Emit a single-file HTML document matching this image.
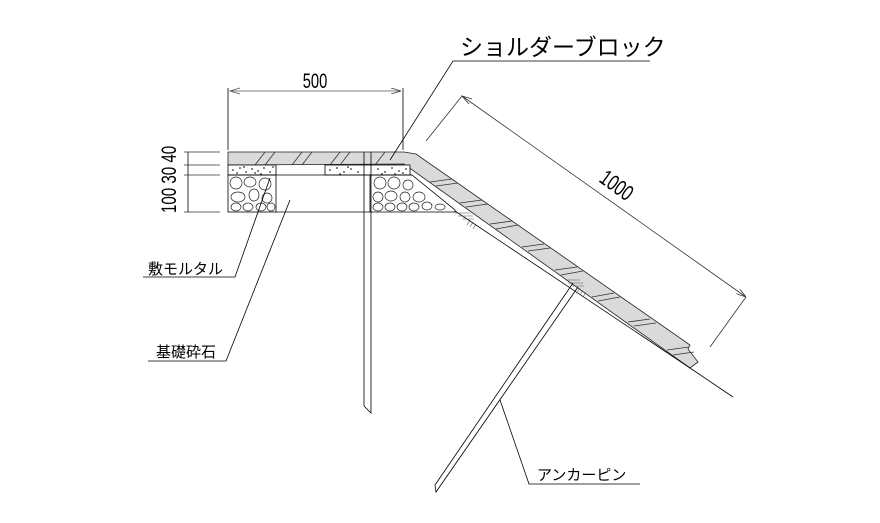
<!DOCTYPE html>
<html><head><meta charset="utf-8"><style>
html,body{margin:0;padding:0;background:#fff;}
svg{display:block;}
text{font-family:"Liberation Sans","Noto Sans CJK JP",sans-serif;fill:#000;}
</style></head><body>
<svg width="880" height="523" viewBox="0 0 880 523" xmlns="http://www.w3.org/2000/svg">
<defs>
<marker id="ar" markerWidth="10" markerHeight="6" refX="10" refY="3" orient="auto" markerUnits="userSpaceOnUse"><path d="M0,0 L10,3 L0,6" fill="none" stroke="#333" stroke-width="0.8"/></marker>
</defs>
<g stroke="#000" stroke-width="0.8" fill="none">
<!-- slab -->
<polygon points="228,152 404,152 416,154 690,345 688,349 698,362 690,368 404,164 228,165" fill="#dadada" stroke="#222"/>
<!-- stripes on slab -->
<g stroke="#333">
<path d="M255,165 L265,152 M265,165 L275,152 M292,165 L302,152 M302,165 L312,152 M330,165 L340,152 M340,165 L350,152 M375,165 L385,152"/>
<path d="M430,182 L452,179 M436,186 L458,183
M460,203 L482,200 M466,207 L488,204
M490,224 L512,221 M496,229 L518,225
M522,247 L544,244 M528,251 L550,248
M555,270 L577,267 M561,275 L583,271
M592,297 L614,293 M598,301 L620,297
M628,322 L650,319 M634,326 L656,323
M667,350 L689,347 M673,355 L694,352"/>
</g>
<!-- mortar -->
<rect x="228" y="165" width="48" height="10" fill="#fff"/>
<rect x="325" y="165" width="85" height="10" fill="#fff"/>
<g fill="#333" stroke="none">
<circle cx="233" cy="170" r="0.9"/><circle cx="240" cy="168" r="0.9"/><circle cx="246" cy="172" r="0.9"/><circle cx="252" cy="169" r="0.9"/><circle cx="258" cy="171" r="0.9"/><circle cx="264" cy="168" r="0.9"/><circle cx="270" cy="172" r="0.9"/><circle cx="237" cy="173" r="0.9"/><circle cx="261" cy="174" r="0.9"/><circle cx="244" cy="167" r="0.9"/><circle cx="255" cy="173" r="0.9"/><circle cx="273" cy="167" r="0.9"/>
<circle cx="330" cy="170" r="0.9"/><circle cx="337" cy="168" r="0.9"/><circle cx="344" cy="172" r="0.9"/><circle cx="351" cy="169" r="0.9"/><circle cx="358" cy="172" r="0.9"/><circle cx="378" cy="169" r="0.9"/><circle cx="385" cy="172" r="0.9"/><circle cx="392" cy="168" r="0.9"/><circle cx="399" cy="171" r="0.9"/><circle cx="406" cy="169" r="0.9"/><circle cx="340" cy="174" r="0.9"/><circle cx="395" cy="174" r="0.9"/><circle cx="348" cy="167" r="0.9"/><circle cx="382" cy="174" r="0.9"/><circle cx="403" cy="173" r="0.9"/>
</g>
<line x1="228" y1="175" x2="412" y2="175"/>
<!-- gravel -->
<rect x="228" y="175" width="48" height="37"/>
<polygon points="370,175 412,175 455,210 455,212 370,212"/>
<line x1="276" y1="212" x2="370" y2="212"/>
<g stroke="#222" stroke-width="0.7">
<ellipse cx="236" cy="183" rx="6" ry="6"/><ellipse cx="250" cy="182" rx="6" ry="5"/><ellipse cx="265" cy="184" rx="6" ry="6"/>
<ellipse cx="238" cy="197" rx="7" ry="5"/><ellipse cx="254" cy="195" rx="5" ry="6"/><ellipse cx="267" cy="198" rx="5" ry="5"/>
<ellipse cx="236" cy="207" rx="5" ry="4"/><ellipse cx="248" cy="207" rx="5" ry="4"/><ellipse cx="261" cy="207" rx="5" ry="4"/><ellipse cx="271" cy="207" rx="4" ry="4"/>
<ellipse cx="380" cy="183" rx="6" ry="6"/><ellipse cx="394" cy="183" rx="6" ry="6"/><ellipse cx="408" cy="185" rx="5" ry="5"/>
<ellipse cx="378" cy="197" rx="5" ry="5"/><ellipse cx="391" cy="196" rx="6" ry="5"/><ellipse cx="405" cy="197" rx="5" ry="5"/><ellipse cx="419" cy="197" rx="6" ry="5"/>
<ellipse cx="378" cy="207" rx="5" ry="4"/><ellipse cx="390" cy="207" rx="5" ry="4"/><ellipse cx="402" cy="207" rx="5" ry="4"/><ellipse cx="414" cy="207" rx="5" ry="4"/><ellipse cx="427" cy="206" rx="5" ry="4"/><ellipse cx="440" cy="207" rx="5" ry="3"/>
</g>
<!-- ground under slope -->
<line x1="455" y1="211" x2="690" y2="368"/>
<line x1="690" y1="368" x2="733" y2="397"/>
<g stroke="#555" stroke-width="0.6">
<path d="M455,213 l15,0 M458,216 l15,0 M462,219 l12,0 M470,220 l-3,5 M473,222 l-3,5 M476,224 l-3,5"/>
<path d="M565,280 l15,0 M568,283 l15,0 M572,286 l12,0 M580,288 l-3,5 M583,290 l-3,5 M586,292 l-3,5"/>
</g>
<!-- vertical pin -->
<path d="M364,152 L364,406 L371,413 L371,152"/>
<!-- anchor pin -->
<path d="M573,283 L435,485 L436,492 L578,287"/>
<!-- 500 dim -->
<line x1="228" y1="150" x2="228" y2="88"/>
<line x1="403" y1="150" x2="403" y2="88"/>
<line x1="230" y1="91" x2="401" y2="91" stroke="#555" marker-end="url(#ar)"/>
<polyline points="240,88 230,91 240,94" stroke="#555"/>
<!-- left dims -->
<line x1="188" y1="152" x2="188" y2="212"/>
<path d="M184,152 H220 M184,165 H220 M184,175 H220 M184,212 H220" stroke="#333"/>
<!-- 1000 dim -->
<line x1="426" y1="141" x2="462" y2="96" stroke="#333"/>
<line x1="710" y1="347" x2="746" y2="297" stroke="#333"/>
<line x1="462" y1="96" x2="746" y2="297" stroke="#333" marker-end="url(#ar)"/>
<polyline points="472,99 462,96 469,104" stroke="#333"/>
<!-- leaders -->
<polyline points="650,61 453,61 390,160"/>
<polyline points="143,277 235,277 270,178"/>
<polyline points="148,361 226,361 290,200"/>
<polyline points="640,484 529,484 500,400"/>
</g>
<text font-size="21" text-anchor="middle" transform="translate(315,88) scale(0.7,1)">500</text>
<text x="460" y="55" font-size="23">ショルダーブロック</text>
<text x="148" y="274" font-size="15">敷モルタル</text>
<text x="156" y="357" font-size="15">基礎砕石</text>
<text x="537" y="480" font-size="15">アンカーピン</text>
<text transform="translate(176,213) rotate(-90) scale(0.72,1)" font-size="21">100 30 40</text>
<text transform="translate(598,181) rotate(36) scale(0.72,1)" font-size="22">1000</text>
</svg>
</body></html>
